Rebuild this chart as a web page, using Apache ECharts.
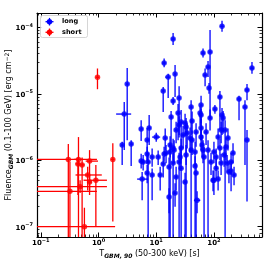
<!DOCTYPE html>
<html><head><meta charset="utf-8">
<script src="https://cdn.jsdelivr.net/npm/echarts@6/dist/echarts.min.js"></script>
<style>html,body{margin:0;padding:0;background:#fff}#c{width:269px;height:267px}</style>
</head><body><div id="c"></div>
<script>
// ---- data: long GRBs (T90 [s], fluence [erg cm^-2], error-bar bounds) ----
const longT90 = [
 138, 19.6, 13.7, 64.7, 85.6, 79, 456, 16.1, 21.2, 70.2,
 82.2, 3.14, 13.2, 374, 127, 272, 19.6, 24.9, 345, 104,
 40.2, 59.8, 18.1, 23.9, 27, 32.9, 138, 59.8, 2.79, 5.48,
 7.54, 10, 6.96, 2.57, 3.68, 13.7, 10.8, 6.96, 5.93, 7.24,
 5.7, 6.96, 8.49, 5.48, 8.49, 11.7, 13.2, 14.8, 16.7, 17.4,
 20.4, 19.6, 21.2, 24.9, 27, 32.9, 34.3, 40.2, 41.8, 47.1,
 51, 59.8, 62.2, 67.4, 79, 89, 100, 109, 109, 127,
 133, 150, 182, 198, 214, 374, 169, 198, 223, 118,
 96.4, 16.7, 31.6, 49, 27, 22.1, 144, 133, 156, 118,
 175, 162, 100, 22.1, 31.6, 29.2, 38.6, 41.8, 49, 59.8,
 73, 85.6, 14.3, 17.4, 19.6, 25.9, 47.1, 64.7, 57.5, 24.9];
const longT90Lo = [
 127, 18.1, 12.6, 60, 80, 73, 420, 14.3, 20, 65,
 77, 2.95, 12.3, 345, 118, 250, 18.3, 23.2, 320, 97,
 37.5, 56, 17, 22.3, 25.3, 30.8, 129, 56, 2.02, 5.1,
 7.0, 8.5, 6.5, 2.4, 3.45, 12.8, 10.1, 6.5, 5.5, 6.8,
 4.67, 6.5, 7.9, 5.1, 7.9, 10.9, 12.3, 13.8, 15.6, 16.3,
 19, 18.3, 19.8, 23.2, 25.3, 30.8, 32, 37.5, 39, 44,
 45, 56, 58, 63, 74, 83, 93, 102, 102, 118,
 124, 140, 170, 185, 200, 350, 158, 185, 208, 110,
 90, 15.6, 29.5, 46, 25.3, 20.7, 134, 124, 146, 110,
 163, 151, 93, 20.7, 29.5, 27.3, 36, 39, 46, 56,
 68, 80, 13.4, 16.3, 18.3, 24.2, 44, 60.5, 54, 23.2];
const longT90Hi = [
 150, 21.2, 14.8, 70, 92, 85, 495, 17.4, 22.5, 76,
 88, 3.35, 14.1, 405, 136, 295, 21, 26.6, 372, 112,
 43, 64, 19.3, 25.6, 28.8, 35, 148, 64, 3.68, 5.9,
 8.1, 11.7, 7.5, 2.75, 3.95, 14.7, 11.6, 7.5, 6.4, 7.8,
 7.24, 7.5, 9.1, 5.9, 9.1, 12.5, 14.1, 15.9, 17.9, 18.6,
 21.8, 21, 22.7, 26.6, 28.8, 35, 36.7, 43, 44.7, 50.4,
 58, 64, 66.5, 72, 84.5, 95, 107, 117, 117, 136,
 142, 161, 195, 212, 229, 400, 181, 212, 239, 126,
 103, 17.9, 33.8, 52.5, 28.8, 23.6, 154, 142, 167, 126,
 187, 173, 107, 23.6, 33.8, 31.2, 41.3, 44.7, 52.5, 64,
 78, 92, 15.3, 18.6, 21, 27.7, 50.4, 69, 61.5, 26.6];
const longFlu = [
 1.04e-4, 6.65e-5, 2.9e-5, 4.09e-5, 4.24e-5, 2.52e-5, 2.43e-5, 1.78e-5, 1.98e-5, 1.91e-5,
 1.22e-5, 1.4e-5, 1.1e-5, 1.14e-5, 8.93e-6, 8.33e-6, 7.77e-6, 8.63e-6, 6.3e-6, 5.88e-6,
 6.3e-6, 6.76e-6, 4.46e-6, 5.12e-6, 3.75e-6, 3.15e-6, 4.78e-6, 4.78e-6, 4.95e-6, 2.95e-6,
 3.05e-6, 2.23e-6, 2.01e-6, 1.69e-6, 1.75e-6, 1.24e-6, 1.12e-6, 1.24e-6, 9.4e-7, 9.4e-7,
 5.2e-7, 6.4e-7, 6.0e-7, 9.7e-7, 1.12e-6, 6.0e-7, 8.8e-7, 1.28e-6, 7.9e-7, 1.69e-6,
 1.42e-6, 9.1e-7, 3.2e-7, 9.4e-7, 1.53e-6, 1.2e-6, 2.56e-6, 1.42e-6, 2.01e-6, 8.2e-7,
 2.5e-7, 2.23e-6, 1.69e-6, 1.12e-6, 1.42e-6, 9.4e-7, 5.0e-7, 7.6e-7, 1.12e-6, 1.53e-6,
 9.1e-7, 1.2e-6, 6.65e-7, 9.4e-7, 1.28e-6, 2.01e-6, 9.1e-7, 6.9e-7, 6.0e-7, 5.2e-7,
 5.0e-7, 2.8e-7, 4.7e-7, 6.4e-7, 7.6e-7, 5.6e-7, 4.31e-6, 2.84e-6, 2.84e-6, 2.23e-6,
 2.16e-6, 1.58e-6, 1.33e-6, 2.84e-6, 3.63e-6, 2.39e-6, 2.16e-6, 3.89e-6, 2.65e-6, 3.05e-6,
 2.65e-6, 4.31e-6, 2.16e-6, 1.33e-6, 1.53e-6, 1.12e-6, 1.33e-6, 1.42e-6, 5.12e-6, 3.38e-6];
const longFluLo = [
 8.6e-5, 5.4e-5, 2.5e-5, 3.5e-5, 4.3e-6, 1.78e-5, 2.0e-5, 8.6e-6, 8.9e-6, 1.3e-5,
 1.0e-5, 2.0e-6, 5.3e-6, 8.0e-6, 2.84e-6, 4.0e-6, 6.8e-6, 2.39e-6, 8.5e-7, 5.0e-6,
 2.4e-6, 2.0e-6, 1.42e-6, 2.0e-6, 1.0e-6, 8.5e-7, 2.4e-6, 3.6e-6, 1.42e-6, 1.95e-6,
 1.69e-6, 1.9e-6, 1.0e-6, 8.5e-7, 8.2e-7, 9.5e-7, 8.5e-7, 9.0e-7, 7.0e-7, 5e-8,
 2.5e-7, 4.5e-7, 2.5e-7, 7.5e-7, 8.0e-7, 3.5e-7, 5.5e-7, 9.0e-7, 5e-8, 1.1e-6,
 9.0e-7, 5e-8, 2.0e-7, 5e-8, 1.0e-6, 5e-8, 1.5e-6, 5e-8, 1.2e-6, 5e-8,
 1.6e-7, 1.4e-6, 1.1e-6, 5e-8, 5e-8, 6.0e-7, 3.0e-7, 5.0e-7, 7.5e-7, 1.0e-6,
 6.0e-7, 8.0e-7, 4.5e-7, 6.0e-7, 9.0e-7, 2.4e-7, 6.5e-7, 3.4e-7, 4.2e-7, 3.5e-7,
 3.4e-7, 1.6e-7, 5e-8, 5e-8, 5e-8, 3.5e-7, 2.5e-6, 1.8e-6, 5e-8, 1.5e-6,
 1.4e-6, 1.0e-6, 9.0e-7, 1.8e-6, 2.3e-6, 1.5e-6, 1.3e-6, 2.5e-6, 1.6e-6, 2.0e-6,
 1.7e-6, 2.8e-6, 1.4e-6, 5e-8, 1.0e-6, 7.0e-7, 8.5e-7, 9.0e-7, 3.3e-6, 2.2e-6];
const longFluHi = [
 1.25e-4, 8.2e-5, 3.4e-5, 4.8e-5, 9.1e-5, 3.1e-5, 3.0e-5, 2.0e-5, 2.7e-5, 2.4e-5,
 1.45e-5, 2.43e-5, 1.26e-5, 1.4e-5, 1.1e-5, 9.3e-6, 8.9e-6, 1.3e-5, 8.0e-6, 6.8e-6,
 8.0e-6, 9.3e-6, 5.5e-6, 7.0e-6, 5.7e-6, 4.3e-6, 6.1e-6, 6.0e-6, 7.5e-6, 4.0e-6,
 4.8e-6, 2.6e-6, 3.05e-6, 1.9e-6, 2.0e-6, 1.6e-6, 1.4e-6, 1.6e-6, 1.2e-6, 1.3e-6,
 6.65e-7, 8.5e-7, 7.5e-7, 1.25e-6, 1.5e-6, 8.0e-7, 1.15e-6, 1.7e-6, 1.1e-6, 2.3e-6,
 2.0e-6, 1.3e-6, 4.5e-7, 1.3e-6, 2.1e-6, 1.7e-6, 3.6e-6, 2.0e-6, 2.8e-6, 1.15e-6,
 3.4e-7, 3.2e-6, 2.4e-6, 1.6e-6, 2.0e-6, 1.3e-6, 7.0e-7, 1.05e-6, 1.5e-6, 2.1e-6,
 1.25e-6, 1.6e-6, 9.0e-7, 1.3e-6, 1.8e-6, 2.84e-6, 1.2e-6, 9.0e-7, 8.0e-7, 7.0e-7,
 7.0e-7, 3.8e-7, 6.5e-7, 9.0e-7, 1.05e-6, 8.0e-7, 5.5e-6, 3.8e-6, 4.0e-6, 3.0e-6,
 3.0e-6, 2.2e-6, 1.9e-6, 3.8e-6, 5.0e-6, 3.3e-6, 3.1e-6, 5.4e-6, 3.6e-6, 4.2e-6,
 3.6e-6, 5.8e-6, 3.0e-6, 1.8e-6, 2.1e-6, 1.6e-6, 1.9e-6, 2.0e-6, 6.5e-6, 4.6e-6];

// ---- data: short GRBs ----
const shortT90   = [0.30, 0.45, 0.44, 0.52, 0.70, 0.65, 0.70, 0.90, 0.48, 0.32, 0.57, 1.77, 0.96];
const shortT90Lo = [0.05, 0.38, 0.40, 0.47, 0.60, 0.40, 0.64, 0.55, 0.05, 0.05, 0.05, 1.65, 0.89];
const shortT90Hi = [0.94, 0.53, 0.48, 0.57, 0.98, 1.14, 0.77, 1.40, 1.40, 0.94, 1.94, 1.90, 1.03];
const shortFlu   = [1.03e-6, 1.03e-6, 8.8e-7, 8.5e-7, 9.7e-7, 6.0e-7, 4.7e-7, 5.0e-7, 4.0e-7, 3.4e-7, 1.0e-7, 1.03e-6, 1.77e-5];
const shortFluLo = [5e-8, 5e-8, 3.0e-7, 5e-8, 3.0e-7, 3.5e-7, 3.5e-7, 1.0e-7, 3.2e-7, 5e-8, 5e-8, 1.2e-7, 1.17e-5];
const shortFluHi = [1.75e-6, 2.23e-6, 1.1e-6, 1.1e-6, 1.42e-6, 8.0e-7, 6.0e-7, 8.5e-7, 5.0e-7, 9.5e-7, 1.93e-7, 1.8e-6, 2.4e-5];

// ---- axes ----
const xMin = 0.086, xMax = 680, yMin = 7.0e-8, yMax = 1.64e-4;
const xMajorTicks = [0.1, 1, 10, 100];
const yMajorTicks = [1e-7, 1e-6, 1e-5, 1e-4];
const seriesNames = ['long', 'short'];
const xTitle = 'T{sub|GBM, 90}{n| (50-300 keV) [s]}';
const yTitle = 'Fluence{sub|GBM}{n| (0.1-100 GeV) [erg cm}{sup|−2}{n|]}';

function minorTicks(majors, lo, hi) {
  const out = [];
  [majors[0] / 10].concat(majors).forEach(m => {
    for (let k = 2; k <= 9; k++) { const v = m * k; if (v >= lo && v <= hi) out.push(v); }
  });
  return out;
}
const xMinorTicks = minorTicks(xMajorTicks, xMin, xMax);
const yMinorTicks = minorTicks(yMajorTicks, yMin, yMax);

const FONT = 'DejaVu Sans';
const RICH = {
  b: {fontFamily: FONT, fontSize: 7, fontWeight: 'bold', color: '#000', lineHeight: 9, verticalAlign: 'bottom'},
  s: {fontFamily: FONT, fontSize: 5, fontWeight: 'bold', color: '#000', lineHeight: 9, verticalAlign: 'top'}
};
function powLabel(v) {
  const e = Math.round(Math.log10(v));
  return '{b|10}{s|' + String(e).replace('-', '−') + '}';
}
const TITLE_RICH = {
  n: {fontFamily: FONT, fontSize: 8, color: '#000', lineHeight: 10},
  sub: {fontFamily: FONT, fontSize: 6, fontWeight: 'bold', fontStyle: 'italic', color: '#000', lineHeight: 10, verticalAlign: 'bottom'},
  sup: {fontFamily: FONT, fontSize: 6, color: '#000', lineHeight: 10, verticalAlign: 'top'}
};

function makeAxis(kind, pos, major) {
  const isX = kind === 'x';
  const majors = isX ? xMajorTicks : yMajorTicks;
  const minors = isX ? xMinorTicks : yMinorTicks;
  const labeled = major && (pos === 'bottom' || pos === 'left');
  const ax = {
    type: 'log', logBase: 10, gridIndex: 0, position: pos,
    min: isX ? xMin : yMin, max: isX ? xMax : yMax,
    axisLine: {show: major, onZero: false, lineStyle: {color: '#000', width: 1.2}},
    axisTick: {show: true, inside: true, length: major ? 4.5 : 2.5,
               customValues: major ? majors : minors,
               lineStyle: {color: '#000', width: major ? 1 : 0.8}},
    axisLabel: {show: labeled, customValues: majors, formatter: powLabel, rich: RICH,
                margin: isX ? 1 : 4},
    splitLine: {show: false}, minorTick: {show: false}, minorSplitLine: {show: false}
  };
  if (labeled) {
    ax.name = isX ? xTitle : yTitle;
    ax.nameLocation = 'middle';
    ax.nameGap = isX ? 12 : 23;
    ax.nameMoveOverlap = false;
    ax.nameTextStyle = {fontFamily: FONT, fontSize: 8, color: '#000', rich: TITLE_RICH};
  }
  return ax;
}

function errBars(color) {
  return function (params, api) {
    const x = api.value(0), xl = api.value(1), xh = api.value(2);
    const y = api.value(3), yl = api.value(4), yh = api.value(5);
    const c = api.coord([x, y]);
    const pl = api.coord([xl, y]), ph = api.coord([xh, y]);
    const pb = api.coord([x, yl]), pt = api.coord([x, yh]);
    const st = {stroke: color, lineWidth: 1.3};
    return {type: 'group', children: [
      {type: 'line', shape: {x1: pl[0], y1: c[1], x2: ph[0], y2: c[1]}, style: st},
      {type: 'line', shape: {x1: c[0], y1: pb[1], x2: c[0], y2: pt[1]}, style: st}
    ]};
  };
}

const longRows = longT90.map((t, i) => [t, longT90Lo[i], longT90Hi[i], longFlu[i], longFluLo[i], longFluHi[i]]);
const shortRows = shortT90.map((t, i) => [t, shortT90Lo[i], shortT90Hi[i], shortFlu[i], shortFluLo[i], shortFluHi[i]]);
const BLUE = '#0000ff', RED = '#ff0000';

function legendItem(y, color, label) {
  return [
    {type: 'line', shape: {x1: 45.5, y1: y, x2: 53.5, y2: y}, style: {stroke: color, lineWidth: 1.3}, z: 101},
    {type: 'line', shape: {x1: 49.5, y1: y - 3.8, x2: 49.5, y2: y + 3.8}, style: {stroke: color, lineWidth: 1.3}, z: 101},
    {type: 'circle', shape: {cx: 49.5, cy: y, r: 2.7}, style: {fill: color}, z: 102},
    {type: 'text', x: 62, y: y, style: {text: label, fontFamily: FONT, fontSize: 6.6, fontWeight: 'bold', fill: '#000', verticalAlign: 'middle'}, z: 102}
  ];
}

const chart = echarts.init(document.getElementById('c'), null, {renderer: 'canvas'});
chart.setOption({
  animation: false,
  backgroundColor: '#fff',
  grid: {left: 37, right: 7, top: 13, bottom: 30, containLabel: false, outerBoundsMode: 'none'},
  xAxis: [makeAxis('x', 'bottom', true), makeAxis('x', 'bottom', false), makeAxis('x', 'top', true), makeAxis('x', 'top', false)],
  yAxis: [makeAxis('y', 'left', true), makeAxis('y', 'left', false), makeAxis('y', 'right', true), makeAxis('y', 'right', false)],
  series: [
    {type: 'custom', name: seriesNames[0] + ' err', xAxisIndex: 0, yAxisIndex: 0, clip: true, silent: true,
     renderItem: errBars(BLUE), data: longRows},
    {type: 'scatter', name: seriesNames[0], xAxisIndex: 0, yAxisIndex: 0, clip: true, silent: true,
     symbol: 'circle', symbolSize: 5.5, itemStyle: {color: BLUE},
     data: longT90.map((t, i) => [t, longFlu[i]])},
    {type: 'custom', name: seriesNames[1] + ' err', xAxisIndex: 0, yAxisIndex: 0, clip: true, silent: true,
     renderItem: errBars(RED), data: shortRows},
    {type: 'scatter', name: seriesNames[1], xAxisIndex: 0, yAxisIndex: 0, clip: true, silent: true,
     symbol: 'circle', symbolSize: 5.5, itemStyle: {color: RED},
     data: shortT90.map((t, i) => [t, shortFlu[i]])}
  ],
  graphic: [
    {type: 'rect', shape: {x: 40.5, y: 15.5, width: 47, height: 22, r: 2},
     style: {fill: 'rgba(255,255,255,0.8)', stroke: '#cccccc', lineWidth: 0.8}, z: 100}
  ].concat(legendItem(21.7, BLUE, seriesNames[0]), legendItem(32.3, RED, seriesNames[1]))
});
</script></body></html>
